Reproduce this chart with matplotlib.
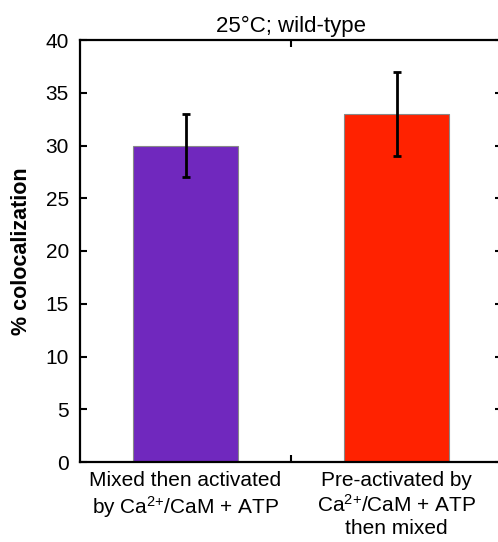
import matplotlib
matplotlib.use('Agg')
import matplotlib.pyplot as plt

plt.rcParams['font.family'] = ['Liberation Sans', 'DejaVu Sans']
plt.rcParams['mathtext.fontset'] = 'custom'
plt.rcParams['mathtext.rm'] = 'Liberation Sans'
plt.rcParams['mathtext.it'] = 'Liberation Sans:italic'
plt.rcParams['mathtext.bf'] = 'Liberation Sans:bold'

labels = ['Mixed then activated\nby Ca$^{2{+}}$/CaM + ATP',
          'Pre-activated by\nCa$^{2{+}}$/CaM + ATP\nthen mixed']
values = [30, 33]
errors = [3, 4]
colors = ['#7028BE', '#FF2200']

fig = plt.figure(figsize=(4.98, 5.42), dpi=100)
ax = fig.add_axes([80/498, 80/542, 422/498, 422/542])

pos = list(range(len(values)))
ax.bar(pos, values, width=0.5, color=colors, edgecolor='#888888', linewidth=0.8, zorder=2)
ax.errorbar(pos, values, yerr=errors, fmt='none', ecolor='black',
            elinewidth=2, capsize=3, capthick=2, zorder=3)

ax.set_xlim(-0.5, 1.5)
ax.set_ylim(0, 40)
ax.set_yticks(range(0, 41, 5))
ax.set_xticks([0.5])
ax.set_xticklabels([''])
for p, lab in zip(pos, labels):
    ax.text(p, -0.9, lab, ha='center', va='top', fontsize=15, linespacing=1.2)

for s in ax.spines.values():
    s.set_linewidth(1.6)
ax.tick_params(direction='in', length=5, width=1.5, labelsize=15,
               top=True, right=True, pad=8)
ax.set_ylabel('% colocalization', fontsize=15.5, fontweight='bold', labelpad=10)
ax.set_title('25°C; wild-type', fontsize=16, pad=6)

fig.savefig('out.png', dpi=100)
